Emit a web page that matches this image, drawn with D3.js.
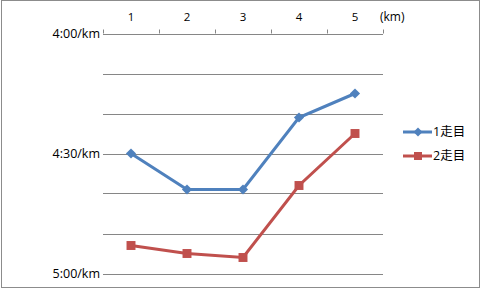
<!DOCTYPE html>
<html>
<head>
<meta charset="utf-8">
<script src="https://cdn.jsdelivr.net/npm/d3@7"></script>
<style>
  body { margin: 0; background: #fff; }
  svg { display: block; font-family: "Open Sans", "Noto Sans CJK JP", sans-serif; }
</style>
</head>
<body>
<svg id="chart"></svg>
<script>
// km points and pace per km (seconds)
let kms = ['1', '2', '3', '4', '5']
let run1 = [270, 279, 279, 261, 255]
let run2 = [293, 295, 296, 278, 265]
let seriesNames = ['1走目', '2走目']
let gridTicks = [240, 250, 260, 270, 280, 290, 300]
let labelTicks = [240, 270, 300]

let width = 481
let height = 289
let colors = ['#4F81BD', '#C0504D']

let svg = d3.select('#chart')
    .attr('width', width)
    .attr('height', height)

// outer frame
svg.append('rect')
   .attr('x', 1.5).attr('y', 0.5)
   .attr('width', width - 3).attr('height', height - 2)
   .attr('fill', 'none')
   .attr('stroke', '#8c8c8c')

let xScale = d3.scaleBand()
               .domain(kms)
               .range([103, 383])
let yScale = d3.scaleLinear()
               .domain([240, 300])
               .range([33.5, 273.5])

let fmt = (s) => Math.floor(s / 60) + ':' + String(s % 60).padStart(2, '0') + '/km'

// gridlines
svg.append('g')
   .selectAll('line')
   .data(gridTicks)
   .enter()
   .append('line')
   .attr('x1', 103).attr('x2', 383)
   .attr('y1', (d) => Math.round(yScale(d)) + 0.5)
   .attr('y2', (d) => Math.round(yScale(d)) + 0.5)
   .attr('stroke', '#868686')
   .attr('stroke-width', 1)

// y labels
svg.append('g')
   .selectAll('text')
   .data(labelTicks)
   .enter()
   .append('text')
   .attr('x', 100)
   .attr('y', (d) => yScale(d))
   .attr('dy', '0.35em')
   .attr('text-anchor', 'end')
   .attr('font-size', 12.5)
   .attr('fill', '#000')
   .text(fmt)

// top x axis
let xAxis = d3.axisTop(xScale).tickSize(0).tickPadding(0)
let gx = svg.append('g')
   .attr('transform', 'translate(0,' + 33.5 + ')')
   .call(xAxis)
gx.select('.domain').remove()
gx.selectAll('text')
  .attr('y', -17)
  .attr('dy', '0.35em')
  .attr('font-size', 11.5)
  .attr('font-family', '"Open Sans", sans-serif')
  .attr('fill', '#000')

let bounds = kms.map((k) => xScale(k)).concat([xScale.range()[1]])
gx.selectAll('.bound')
  .data(bounds)
  .enter()
  .append('line')
  .attr('class', 'bound')
  .attr('x1', (d) => Math.round(d) + 0.5).attr('x2', (d) => Math.round(d) + 0.5)
  .attr('y1', -4).attr('y2', 0)
  .attr('stroke', '#868686')

svg.append('text')
   .attr('x', 380)
   .attr('y', 16.5)
   .attr('dy', '0.35em')
   .attr('font-size', 12)
   .attr('fill', '#000')
   .text('(km)')

let line = d3.line()
             .x((d, i) => xScale(kms[i]) + xScale.bandwidth() / 2)
             .y((d) => yScale(d))

let diamond = d3.symbol().type(d3.symbolSquare).size(52)
let square = d3.symbol().type(d3.symbolSquare).size(80)
let rot = [45, 0]

let drawSeries = (vals, color, sym, r) => {
    svg.append('path')
       .datum(vals)
       .attr('d', line)
       .attr('fill', 'none')
       .attr('stroke', color)
       .attr('stroke-width', 3)
    svg.append('g')
       .selectAll('path')
       .data(vals)
       .enter()
       .append('path')
       .attr('d', sym)
       .attr('transform', (d, i) => 'translate(' + (xScale(kms[i]) + xScale.bandwidth() / 2) + ',' + yScale(d) + ') rotate(' + r + ')')
       .attr('fill', color)
}

drawSeries(run1, colors[0], diamond, rot[0])
drawSeries(run2, colors[1], square, rot[1])

// legend
let syms = [d3.symbol().type(d3.symbolSquare).size(40), d3.symbol().type(d3.symbolSquare).size(64)]
let legend = svg.append('g')
seriesNames.forEach((name, i) => {
    let y = 132 + i * 24
    legend.append('line')
          .attr('x1', 403).attr('x2', 432)
          .attr('y1', y).attr('y2', y)
          .attr('stroke', colors[i])
          .attr('stroke-width', 3)
    legend.append('path')
          .attr('d', syms[i])
          .attr('transform', 'translate(418,' + y + ') rotate(' + rot[i] + ')')
          .attr('fill', colors[i])
    legend.append('text')
          .attr('x', 433)
          .attr('y', y)
          .attr('dy', '0.35em')
          .attr('font-size', 12.5)
          .attr('fill', '#000')
          .text(name)
})
</script>
</body>
</html>
